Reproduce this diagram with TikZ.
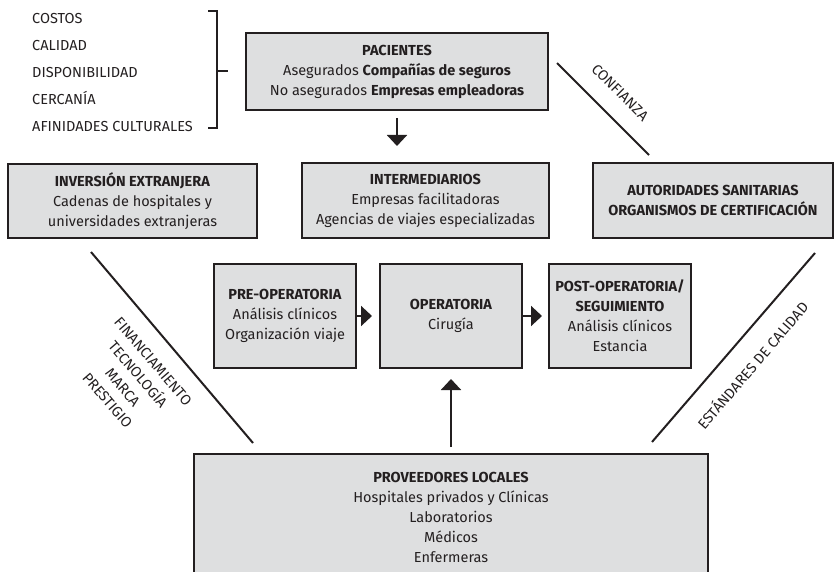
\documentclass[tikz,border=0pt]{standalone}
\usepackage{fontspec}
\setmainfont{Fira Sans}
\usetikzlibrary{arrows.meta}
\definecolor{ink}{HTML}{231F20}
\definecolor{boxgray}{HTML}{DEDFE0}
\tikzset{
  txt/.style={font=\fontsize{14.5}{20}\selectfont, align=center, inner sep=0pt, text=ink},
  listitem/.style={font=\fontsize{14.5}{20}\selectfont, inner sep=0pt, anchor=base west, text=ink},
  box/.style={draw=ink, fill=boxgray, line width=2pt, txt},
  conn/.style={draw=ink, line width=2pt},
  arr/.style={conn, -{Triangle[length=11pt,width=20pt]}},
}
\begin{document}
\begin{tikzpicture}[x=1pt,y=-1pt]
\clip (0,0) rectangle (835,572);
% list
\node[listitem] (l1) at (32,24) {COSTOS};
\node[listitem] (l2) at (32,51) {CALIDAD};
\node[listitem] (l3) at (32,78) {DISPONIBILIDAD};
\node[listitem] (l4) at (32,105) {CERCANÍA};
\node[listitem] (l5) at (32,132) {AFINIDADES CULTURALES};
% bracket
\draw[ink, line width=1.4pt] (208,11) -- (217,11) -- (217,128) -- (208,128);
\draw[ink, line width=1.4pt] (217,71) -- (228,71);
% boxes
\node[box, minimum width=302pt, minimum height=77pt] (pac) at (397,71.5)
  {\textbf{PACIENTES}\\Asegurados \textbf{Compañías de seguros}\\No asegurados \textbf{Empresas empleadoras}};
\node[box, minimum width=249pt, minimum height=74pt] (inv) at (132.5,201)
  {\textbf{INVERSIÓN EXTRANJERA}\\Cadenas de hospitales y\\universidades extranjeras};
\node[box, minimum width=247pt, minimum height=75pt] (int) at (425.5,200.5)
  {\textbf{INTERMEDIARIOS}\\Empresas facilitadoras\\Agencias de viajes especializadas};
\node[box, minimum width=240pt, minimum height=75pt] (aut) at (713,200.5)
  {\textbf{AUTORIDADES SANITARIAS}\\\textbf{ORGANISMOS DE CERTIFICACIÓN}};
\node[box, minimum width=142pt, minimum height=104pt] (pre) at (285,316)
  {\textbf{PRE-OPERATORIA}\\Análisis clínicos\\Organización viaje};
\node[box, minimum width=142pt, minimum height=104pt] (op) at (451,316)
  {\textbf{OPERATORIA}\\Cirugía};
\node[box, minimum width=142pt, minimum height=104pt] (post) at (620,316)
  {\textbf{POST-OPERATORIA/}\\\textbf{SEGUIMIENTO}\\Análisis clínicos\\Estancia};
\node[box, minimum width=514pt, minimum height=160pt, anchor=north] (prov) at (451,453) {};
\node[txt, anchor=north] (provt) at (451,472)
  {\textbf{PROVEEDORES LOCALES}\\Hospitales privados y Clínicas\\Laboratorios\\Médicos\\Enfermeras};
% arrows
\draw[arr, shorten <=7pt, shorten >=16pt] (pac.south) -- (pac.south |- int.north);
\draw[arr, shorten >=7pt] (pre.east) -- (op.west);
\draw[arr, shorten >=6pt] (op.east) -- (post.west);
\draw[arr, shorten <=6pt, shorten >=10pt] (prov.north) -- (op.south);
% diagonal lines
\coordinate (c1) at (557,63);
\coordinate (c2) at (649,155);
\coordinate (f1) at (91,252);
\coordinate (f2) at (253,443);
\coordinate (e1) at (815,253);
\coordinate (e2) at (652,442);
\draw[conn] (c1) -- (c2);
\draw[conn] (f1) -- (f2);
\draw[conn] (e1) -- (e2);
% rotated labels
\node[txt, rotate=-45] (conf) at (620,92.5) {CONFIANZA};
\node[txt, rotate=-49.5] (fin) at (130.25,381) {FINANCIAMIENTO\\TECNOLOGÍA\\MARCA\\PRESTIGIO};
\node[txt, rotate=49.5] (est) at (752,365) {ESTÁNDARES DE CALIDAD};
\end{tikzpicture}
\end{document}
